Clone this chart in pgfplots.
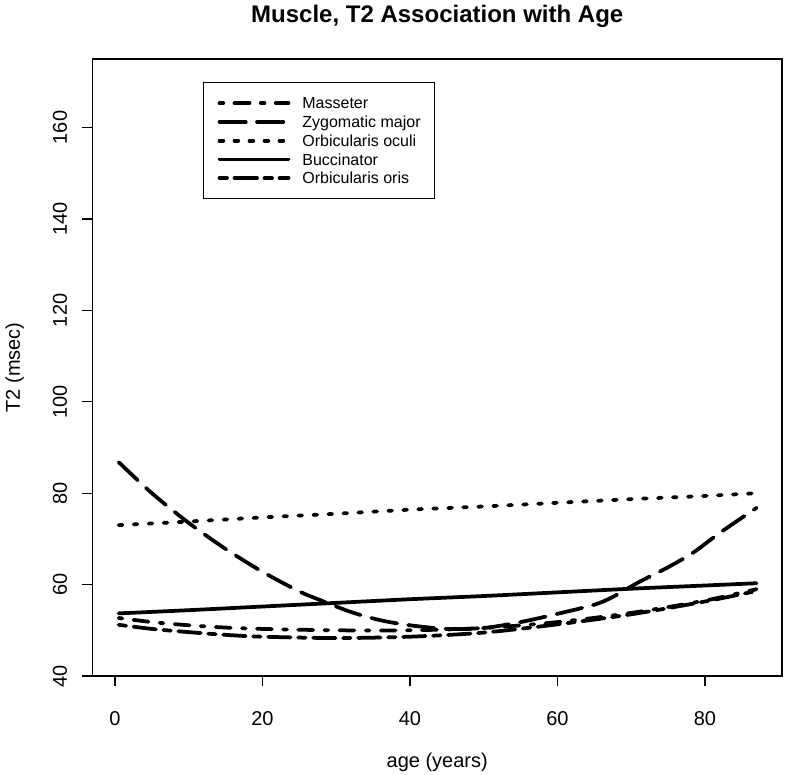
\documentclass[border=0pt]{standalone}
\usepackage{fontspec}
\setmainfont{Liberation Sans}
\usepackage{pgfplots}
\pgfplotsset{compat=1.18}
\begin{document}
\begin{tikzpicture}
\useasboundingbox (-92.5bp,-99bp) rectangle (692.5bp,676bp);
\begin{axis}[
  at={(0,0)}, anchor=south west,
  scale only axis, width=689.5bp, height=617bp,
  xmin=-3.05, xmax=90.45, ymin=40, ymax=175,
  xtick={0,20,40,60,80}, ytick={40,60,80,100,120,140,160},
  tick pos=left, tick align=outside, major tick length=10bp,
  axis line style={line width=1.25bp},
  every tick/.style={line width=1.25bp, black},
  /pgf/number format/assume math mode=true,
  tick label style={font=\fontsize{20bp}{24bp}\selectfont},
  xticklabel style={anchor=base, inner sep=0pt},
  xticklabel shift=39bp,
  yticklabel style={rotate=90, anchor=base, inner sep=0pt},
  yticklabel shift=15.5bp,
  title={Muscle, T2 Association with Age},
  every axis title/.style={at={([yshift=36bp]axis description cs:0.5,1)}, anchor=base, inner sep=0pt,
    font=\bfseries\fontsize{24bp}{28bp}\selectfont},
  xlabel={age (years)},
  every axis x label/.style={at={([yshift=-91bp]axis description cs:0.5,0)}, anchor=base, inner sep=0pt,
    font=\fontsize{20bp}{24bp}\selectfont},
  ylabel={T2 (msec)},
  every axis y label/.style={at={([xshift=-72.5bp]axis description cs:0,0.5)}, rotate=90, anchor=base, inner sep=0pt,
    font=\fontsize{20bp}{24bp}\selectfont},
  every axis plot/.append style={line width=3.75bp, line cap=round, line join=round, black},
  legend cell align=left,
  legend image code/.code={\draw[#1] (0bp,0bp) -- (69bp,0bp);},
  legend style={at={(0.1603,0.9627)}, anchor=north west, draw=black, line width=1.25bp,
    inner xsep=14bp, inner ysep=14.75bp, row sep=7.25bp, column sep=12bp,
    font=\fontsize{16bp}{19bp}\selectfont,
    nodes={inner sep=0pt, text height=11.5bp, text depth=0bp}},
]
% Masseter (dot-dash)
\addplot[smooth, dash pattern=on 3.75bp off 11.25bp on 15bp off 11.25bp] coordinates {
(0.5,52.7) (5,51.8) (10,51.1) (15,50.6) (20,50.3) (30,50.0) (40,50.0) (50,50.5) (60,51.8) (70,53.8) (80,56.5) (87,59.0)};
\addlegendentry{Masseter}
% Zygomatic major (long dash)
\addplot[smooth, dash pattern=on 26.25bp off 11.25bp] coordinates {
(0.5,86.8) (5,80.0) (10,73.5) (15,67.8) (20,62.8) (25,58.5) (28,56.5) (32,54.0) (36,52.2) (40,51.1) (45,50.3) (50,50.5) (55,51.8) (60,53.6) (65,55.6) (67.5,57.3) (71,60.5) (75,63.8) (78.5,67.1) (82,71.3) (87,76.8)};
\addlegendentry{Zygomatic major}
% Orbicularis oculi (dotted)
\addplot[smooth, dash pattern=on 3.75bp off 11.25bp] coordinates {
(0.5,73.0) (10,73.8) (20,74.7) (30,75.5) (40,76.4) (50,77.1) (60,77.9) (70,78.7) (80,79.4) (87,80.0)};
\addlegendentry{Orbicularis oculi}
% Buccinator (solid)
\addplot[smooth] coordinates {
(0.5,53.7) (10,54.4) (20,55.2) (30,56.0) (40,56.8) (50,57.5) (60,58.3) (70,59.1) (80,59.8) (87,60.3)};
\addlegendentry{Buccinator}
% Orbicularis oris (two-dash)
\addplot[smooth, dash pattern=on 7.5bp off 7.5bp on 22.5bp off 7.5bp] coordinates {
(0.5,51.2) (5,50.3) (10,49.6) (15,49.0) (20,48.6) (30,48.3) (40,48.6) (50,49.5) (60,51.3) (70,53.5) (80,56.3) (87,58.6)};
\addlegendentry{Orbicularis oris}
\end{axis}
\end{tikzpicture}
\end{document}
